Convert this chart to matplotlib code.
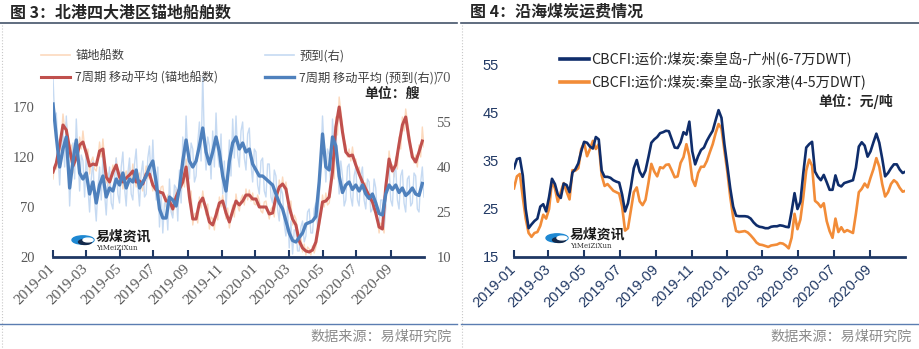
import numpy as np
import pandas as pd
import matplotlib
matplotlib.use("Agg")
import matplotlib.pyplot as plt
import matplotlib.dates as mdates
from matplotlib.lines import Line2D
from matplotlib.patches import Circle

plt.rcParams['font.family'] = ['Noto Sans CJK SC', 'DejaVu Sans']

W, H = 920, 349

# ---------------- left chart: anchorage ships (daily-ish, 3 day step) ----------------
left_start = '2019-01-01'
anchor_raw = [98, 112, 108, 120, 125, 140, 163, 148, 155, 138, 120, 132, 104, 116, 126, 113,
              140, 128, 146, 130, 118, 128, 103, 116, 120, 108, 106, 118, 135, 120, 138, 118,
              94, 104, 88, 100, 112, 100, 119, 104, 94, 106, 88, 100, 106, 94, 110, 97,
              113, 98, 90, 101, 104, 92, 86, 98, 111, 98, 108, 96, 86, 97, 93, 82,
              80, 90, 91, 78, 70, 82, 83, 71, 62, 74, 88, 74, 95, 82, 103, 90,
              118, 104, 74, 86, 52, 63, 64, 54, 80, 69, 86, 74, 62, 73, 48, 60,
              58, 47, 68, 57, 80, 70, 82, 70, 58, 69, 49, 60, 72, 60, 83, 71,
              66, 78, 82, 72, 88, 77, 87, 76, 84, 73, 72, 82, 76, 66, 64, 75,
              76, 66, 58, 68, 70, 60, 86, 76, 97, 86, 100, 88, 95, 82, 64, 76,
              52, 62, 58, 46, 32, 40, 25, 33, 22, 30, 28, 22, 31, 24, 30, 40,
              50, 62, 82, 70, 84, 72, 74, 86, 112, 98, 160, 142, 180, 166, 152, 138,
              132, 120, 128, 116, 130, 117, 118, 106, 110, 98, 101, 90, 94, 83, 86, 76,
              80, 70, 70, 58, 44, 54, 52, 44, 84, 96, 126, 112, 112, 100, 120, 108,
              140, 128, 160, 146, 168, 156, 145, 132, 126, 114, 122, 110, 132, 120, 150, 130]
arrival_raw = [70, 56, 58, 44, 34, 46, 52, 40, 57, 45, 27, 38, 48, 36, 56, 44,
               32, 44, 42, 30, 45, 33, 25, 36, 42, 29, 22, 33, 40, 29, 44, 31,
               24, 35, 40, 28, 26, 37, 43, 31, 28, 40, 45, 33, 27, 38, 43, 31,
               29, 41, 46, 34, 27, 38, 42, 30, 31, 43, 47, 35, 49, 36, 29, 40,
               20, 31, 18, 28, 28, 19, 36, 25, 23, 34, 33, 22, 39, 28, 50, 37,
               57, 44, 36, 48, 46, 35, 37, 48, 55, 42, 71, 48, 39, 50, 47, 36,
               52, 40, 58, 44, 40, 51, 31, 42, 26, 37, 49, 37, 56, 43, 57, 44,
               40, 52, 55, 43, 39, 51, 53, 41, 35, 46, 45, 34, 31, 42, 43, 32,
               30, 41, 41, 30, 28, 39, 37, 26, 22, 33, 31, 21, 17, 27, 13, 22,
               11, 19, 19, 12, 12, 20, 22, 15, 17, 25, 26, 18, 18, 26, 28, 20,
               30, 42, 57, 46, 35, 46, 44, 33, 56, 45, 53, 41, 31, 42, 37, 27,
               29, 40, 41, 30, 27, 37, 40, 29, 27, 37, 40, 29, 26, 36, 35, 25,
               26, 36, 33, 23, 20, 29, 29, 20, 26, 37, 40, 29, 27, 38, 40, 29,
               26, 37, 39, 28, 25, 36, 37, 27, 28, 38, 37, 26, 25, 35, 40, 30]
# 7-period moving averages (6 day step)
anchor_ma = [105, 114, 132, 152, 147, 128, 111, 119, 132, 135, 124, 111, 113, 112, 126, 128,
             100, 95, 105, 112, 100, 95, 99, 102, 106, 95, 96, 93, 103, 103, 92, 87,
             85, 84, 76, 76, 68, 80, 88, 95, 110, 80, 58, 58, 74, 79, 68, 55,
             52, 62, 74, 76, 64, 55, 66, 76, 72, 76, 82, 82, 78, 78, 70, 70,
             70, 63, 64, 80, 90, 93, 88, 70, 58, 52, 36, 29, 26, 25, 27, 35,
             55, 75, 76, 80, 105, 150, 170, 145, 125, 121, 122, 112, 103, 95, 88, 81,
             75, 64, 50, 48, 90, 118, 106, 112, 133, 152, 160, 138, 120, 115, 125, 136]
arrival_ma = [61, 50, 40, 46, 50, 33, 42, 49, 38, 36, 38, 31, 35, 28, 34, 37,
              30, 33, 32, 36, 34, 38, 33, 36, 35, 39, 33, 35, 37, 40, 42, 35,
              26, 23, 23, 30, 29, 27, 33, 42, 49, 42, 40, 42, 47, 53, 45, 41,
              45, 50, 45, 37, 32, 42, 48, 50, 46, 48, 45, 46, 41, 39, 37, 37,
              36, 35, 34, 31, 28, 26, 22, 18, 15.5, 15, 16.5, 18, 21, 21.5, 22, 23.5,
              35, 51, 40, 39, 50, 47, 37, 31.5, 34, 35, 32.5, 34, 32, 34, 31, 29.5,
              31, 28, 24.5, 24, 31, 34, 32.5, 34, 31.5, 33, 30.5, 31.5, 33, 31, 30.5, 34.5]

# ---------------- right chart: coastal coal freight (5 day step) ----------------
right_start = '2019-01-01'
freight_gz = [33.5, 35.4, 35.6, 32, 25, 21, 21.8, 22.5, 23, 25.5, 26, 24.5, 27.5, 31.3, 30.2, 28,
              27.3, 30.3, 30, 28.5, 32.6, 33.3, 34.5, 37, 39, 38.8, 38, 37.6, 40, 39.5, 33, 31.7,
              31.7, 31.5, 31, 30.7, 30.5, 28, 24.5, 26.2, 29.6, 33.5, 35.2, 32.8, 31.7, 33, 35.8, 38.8,
              39.5, 40, 40.8, 41, 41.3, 41.2, 39.5, 37.8, 37.7, 38.9, 41, 40.5, 43.2, 37, 34.3, 36,
              37.3, 37.8, 39.2, 40.3, 41.3, 43.5, 45.6, 44, 38.5, 34, 29.3, 25.5, 23.6, 23.5, 23.5, 23.5,
              23.4, 23, 22.2, 21.6, 21.3, 21.2, 21, 21, 21.3, 21.4, 21.4, 21.6, 21.5, 21.3, 21.2, 24.5,
              28.3, 25, 26.5, 32.5, 37.8, 38.5, 39, 32.8, 31.7, 31, 32.1, 30.6, 29, 29, 32, 30,
              29.7, 30.4, 30.6, 30.8, 31, 33.6, 38, 38.9, 38.2, 35.9, 37, 38.9, 40.7, 38.8, 35.5, 31.8,
              32.5, 33.5, 34.3, 34.3, 33.2, 32.5, 32.8]
freight_zjg = [29.3, 31.8, 32.3, 27.5, 23, 20, 19.2, 20, 20.2, 21.5, 23.8, 23, 25, 30.8, 29.3, 26.5,
               28.5, 30.4, 28.6, 27, 33.1, 33, 33.5, 37.5, 38.8, 36, 37.5, 39.2, 37.5, 38.5, 32, 29.8,
               30.2, 29.5, 28.8, 28.5, 28.2, 25.5, 20.5, 21, 24.8, 28.5, 29.5, 26.6, 25.8, 26.9, 30.4, 34.4,
               32.8, 31.8, 33.7, 33.5, 34.2, 34.3, 33, 31.6, 31.8, 34.6, 35.8, 38.5, 36, 31.2, 29.8, 32.5,
               33.8, 33.8, 35, 36.8, 38.5, 40.8, 42.7, 41.8, 37.2, 32.8, 27.5, 23.3, 20.4, 20.2, 20.3, 20.4,
               20.1, 19.5, 18.8, 18, 17.6, 17.5, 17.3, 17.1, 17.4, 17.5, 17.6, 17.9, 17.8, 17.4, 16.8, 19,
               24, 20.8, 22.8, 27.5, 33, 35.3, 34, 26.7, 26.2, 25.4, 26.2, 22.5, 20.4, 19, 23, 20.2,
               21.2, 20.2, 20.6, 20.3, 20, 24, 28.5, 29.2, 30.3, 29.5, 31.5, 33.3, 35.6, 33.8, 30.2, 27.6,
               28.5, 30.2, 31, 30.5, 29.4, 28.6, 28.8]


def fx(px):
    return px / W


def fy(py):
    return 1 - py / H


def axes_px(x0, y0, x1, y1):
    return [fx(x0), fy(y1), (x1 - x0) / W, (y1 - y0) / H]


fig = plt.figure(figsize=(W / 100, H / 100), dpi=100)

raw_dates = pd.date_range(left_start, periods=len(anchor_raw), freq='3D')
ma_dates = pd.date_range(left_start, periods=len(anchor_ma), freq='6D')
fr_dates = pd.date_range(right_start, periods=len(freight_gz), freq='5D')
xmin, xmax = pd.Timestamp('2019-01-01'), pd.Timestamp('2020-10-31')

# ---------- left panel ----------
ax = fig.add_axes(axes_px(53, 77, 424, 257))
ax_r = ax.twinx()
ax_l2 = ax.twinx()
ax_r2 = ax.twinx()

ax.plot(raw_dates, anchor_raw, color='#FCD9BD', lw=1)
ax_r.plot(raw_dates, arrival_raw, color='#C6DAF2', lw=1)
ax_l2.plot(ma_dates, anchor_ma, color='#C0504D', lw=2.2)
ax_r2.plot(ma_dates, arrival_ma, color='#4F81BD', lw=2.4)

for a in (ax, ax_l2):
    a.set_ylim(20, 200)
for a in (ax_r, ax_r2):
    a.set_ylim(10, 70)
for a in (ax, ax_r, ax_l2, ax_r2):
    a.set_xlim(xmin, xmax)
    a.patch.set_visible(False)
    for s in a.spines.values():
        s.set_visible(False)
for a in (ax_l2, ax_r2):
    a.set_yticks([])

ax.set_yticks([20, 70, 120, 170])
ax_r.set_yticks([10, 25, 40, 55, 70])
ax.tick_params(axis='y', length=0, pad=13, labelsize=10.5, labelcolor='#595959')
ax_r.tick_params(axis='y', length=0, pad=9, labelsize=10.5, labelcolor='#595959')
for lab in ax.get_yticklabels() + ax_r.get_yticklabels():
    lab.set_family('Liberation Serif')

ax.spines['bottom'].set_visible(True)
ax.spines['bottom'].set_color('#1F3864')
ax.spines['bottom'].set_linewidth(2)
ax.xaxis.set_major_locator(mdates.MonthLocator(bymonth=[1, 3, 5, 7, 9, 11]))
ax.xaxis.set_major_formatter(mdates.DateFormatter('%Y-%m'))
ax.tick_params(axis='x', direction='in', length=5, width=1.5, color='#1F3864',
               pad=7, labelsize=11, labelcolor='#595959')
for lab in ax.get_xticklabels():
    lab.set_family('Liberation Serif')
    lab.set_rotation(45)
    lab.set_ha('right')
    lab.set_va('center')
    lab.set_rotation_mode('anchor')

fig.text(fx(420), fy(94), '单位：艘', ha='right', va='center', fontsize=10,
         fontweight='bold', color='#262626')

leg_kw = dict(loc='upper left', frameon=False, fontsize=8.8, handlelength=2.4,
              handletextpad=0.4, labelspacing=0.75, borderpad=0, labelcolor='#404040')
fig.legend([Line2D([], [], color='#FCD9BD', lw=1.2), Line2D([], [], color='#C0504D', lw=2.2)],
           ['锚地船数', '7周期 移动平均 (锚地船数)'],
           bbox_to_anchor=(fx(35), fy(43)), **leg_kw)
fig.legend([Line2D([], [], color='#C6DAF2', lw=1.2), Line2D([], [], color='#4F81BD', lw=2.4)],
           ['预到(右)', '7周期 移动平均 (预到(右))'],
           bbox_to_anchor=(fx(259), fy(43)), **leg_kw)

# ---------- right panel ----------
bx = fig.add_axes(axes_px(514, 65, 905, 257))
bx.plot(fr_dates, freight_zjg, color='#F28C38', lw=1.9, zorder=2)
bx.plot(fr_dates, freight_gz, color='#0F2D6B', lw=1.9, zorder=3)
bx.set_xlim(xmin, xmax)
bx.set_ylim(15, 55)
bx.set_yticks([15, 25, 35, 45, 55])
for s in bx.spines.values():
    s.set_visible(False)
bx.spines['bottom'].set_visible(True)
bx.spines['bottom'].set_color('#1F3864')
bx.spines['bottom'].set_linewidth(2)
bx.tick_params(axis='y', length=0, pad=11, labelsize=10.5, labelcolor='#203864')
bx.xaxis.set_major_locator(mdates.MonthLocator(bymonth=[1, 3, 5, 7, 9, 11]))
bx.xaxis.set_major_formatter(mdates.DateFormatter('%Y-%m'))
bx.tick_params(axis='x', direction='in', length=5, width=1.5, color='#1F3864',
               pad=7, labelsize=10.5, labelcolor='#203864')
for lab in bx.get_xticklabels() + bx.get_yticklabels():
    lab.set_family('Liberation Sans')
for lab in bx.get_xticklabels():
    lab.set_rotation(45)
    lab.set_ha('right')
    lab.set_va('center')
    lab.set_rotation_mode('anchor')

fig.legend([Line2D([], [], color='#0F2D6B', lw=2.6), Line2D([], [], color='#F28C38', lw=2.6)],
           ['CBCFI:运价:煤炭:秦皇岛-广州(6-7万DWT)', 'CBCFI:运价:煤炭:秦皇岛-张家港(4-5万DWT)'],
           loc='upper left', bbox_to_anchor=(fx(553), fy(45)), frameon=False,
           fontsize=10.3, handlelength=2.0, handletextpad=0.2, labelspacing=0.55,
           borderpad=0, labelcolor='#262626')
fig.text(fx(893), fy(101), '单位：元/吨', ha='right', va='center', fontsize=10,
         fontweight='bold', color='#262626')

# ---------- frame: titles, rules, source, logos ----------
fig.text(fx(10), fy(12), '图 3：北港四大港区锚地船舶数', ha='left', va='center',
         fontsize=11.5, fontweight='bold', color='#262626')
fig.text(fx(470), fy(12), '图 4：沿海煤炭运费情况', ha='left', va='center',
         fontsize=11.5, fontweight='bold', color='#262626')
for x0, x1 in ((0, 457), (461, 920)):
    fig.add_artist(Line2D([fx(x0), fx(x1)], [fy(23), fy(23)], color='#44546A', lw=1.2))
    fig.add_artist(Line2D([fx(x0), fx(x1)], [fy(324), fy(324)], color='#5B7DB1', lw=1))
for xd in (2, 462):
    fig.add_artist(Line2D([fx(xd), fx(xd)], [fy(25), fy(349)], color='#C8C8C8', lw=0.8, ls=':'))
fig.text(fx(452), fy(337), '数据来源：易煤研究院', ha='right', va='center', fontsize=10.2, color='#8C8C8C')
fig.text(fx(912), fy(337), '数据来源：易煤研究院', ha='right', va='center', fontsize=10.2, color='#8C8C8C')

for cx, cy in ((83, 240), (557, 238)):
    fig.add_artist(Circle((fx(cx), fy(cy)), radius=11 / W, transform=fig.transFigure,
                          color='#1E88D2', zorder=5))
    fig.add_artist(Circle((fx(cx + 2), fy(cy + 2)), radius=6.5 / W, transform=fig.transFigure,
                          color='#13294B', zorder=6))
    fig.add_artist(Circle((fx(cx + 5), fy(cy)), radius=5 / W, transform=fig.transFigure,
                          color='white', zorder=7))
    fig.text(fx(cx + 13), fy(cy - 4), '易煤资讯', ha='left', va='center', fontsize=10,
             fontweight='bold', color='#1A1A1A', zorder=8)
    fig.text(fx(cx + 13), fy(cy + 8), 'YiMeiZiXun', ha='left', va='center', fontsize=5,
             family='DejaVu Serif', color='#333333', zorder=8)

fig.savefig('out.png', dpi=100)
